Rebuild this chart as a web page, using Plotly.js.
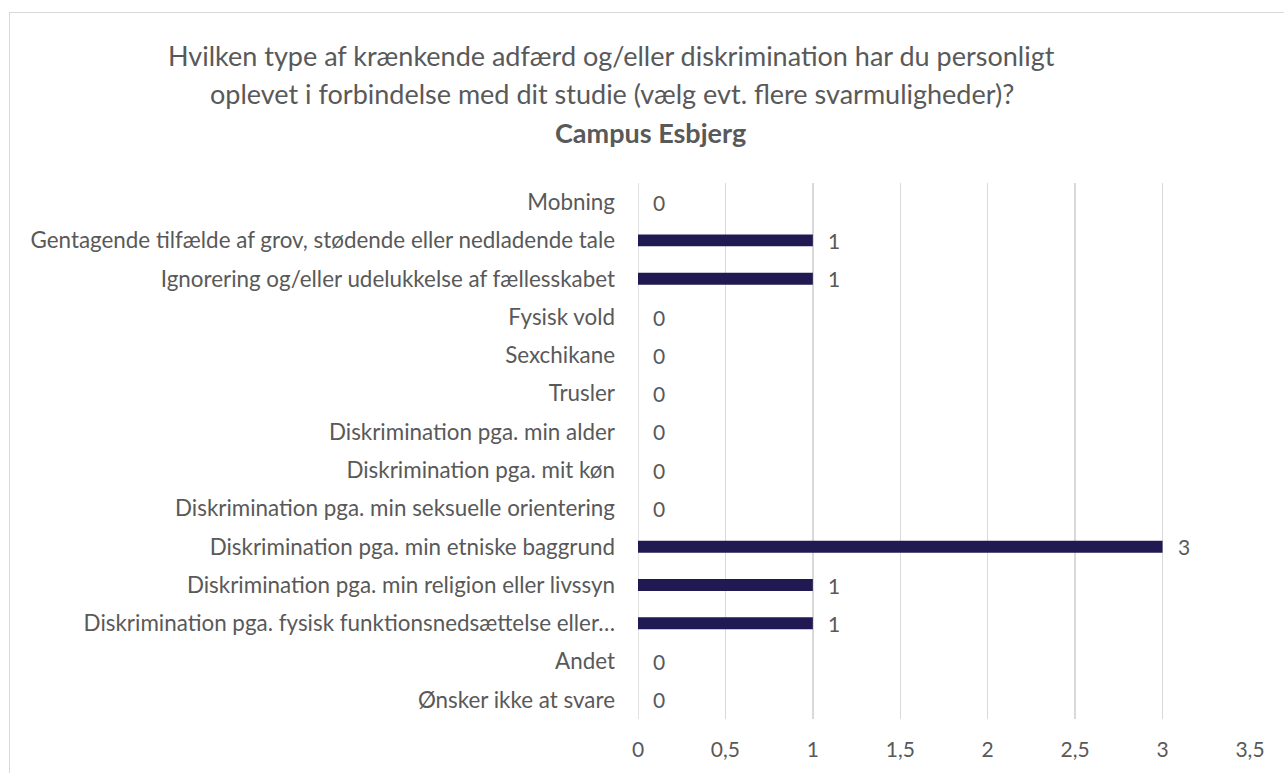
<!DOCTYPE html>
<html><head><meta charset="utf-8">
<script src="https://cdn.plot.ly/plotly-3.0.1.min.js"></script>
<style>html,body{margin:0;padding:0;background:#fff;overflow:hidden}
#frame{position:absolute;left:9px;top:12px;width:1400px;height:900px;border-left:1.5px solid #D9D9D9;border-top:1.5px solid #D9D9D9;pointer-events:none;z-index:5}
#chart{position:absolute;left:0;top:0;width:1284px;height:773px}</style>
</head><body>
<div id="chart"></div><div id="frame"></div>
<script>
const categories = [
  "Mobning",
  "Gentagende tilfælde af grov, stødende eller nedladende tale",
  "Ignorering og/eller udelukkelse af fællesskabet",
  "Fysisk vold",
  "Sexchikane",
  "Trusler",
  "Diskrimination pga. min alder",
  "Diskrimination pga. mit køn",
  "Diskrimination pga. min seksuelle orientering",
  "Diskrimination pga. min etniske baggrund",
  "Diskrimination pga. min religion eller livssyn",
  "Diskrimination pga. fysisk funktionsnedsættelse eller…",
  "Andet",
  "Ønsker ikke at svare"
];
const values = [0, 1, 1, 0, 0, 0, 0, 0, 0, 3, 1, 1, 0, 0];
const tickVals = [0, 0.5, 1, 1.5, 2, 2.5, 3, 3.5];
const tickText = ["0", "0,5", "1", "1,5", "2", "2,5", "3", "3,5"];
const titleLines = [
  "Hvilken type af krænkende adfærd og/eller diskrimination har du personligt",
  "oplevet i forbindelse med dit studie (vælg evt. flere svarmuligheder)?",
  "<b>Campus Esbjerg</b>"
];

const FONT = "Lato, 'Open Sans', sans-serif";
const GREY = "#595959";

const trace = {
  type: "bar", orientation: "h",
  x: values, y: categories,
  width: 0.31,
  marker: {color: "#211A52", line: {width: 0}},
  hoverinfo: "x+y"
};

const labelAnn = values.map((v, i) => ({
  x: v, y: categories[i], xref: "x", yref: "y",
  text: String(v), showarrow: false, xanchor: "left", yanchor: "middle",
  xshift: 13, font: {family: FONT, size: 21, color: GREY}
}));

const titleY = [1.2388, 1.1679, 1.0951];
const titleX = [-0.0425, -0.0425, 0.0212];
const titleAnn = titleLines.map((t, i) => ({
  x: titleX[i], y: titleY[i], xref: "paper", yref: "paper",
  text: t, showarrow: false, xanchor: "center", yanchor: "middle",
  font: {family: FONT, size: 27, color: GREY}
}));

const layout = {
  width: 1284, height: 773,
  margin: {l: 638, r: 34, t: 183, b: 54},
  paper_bgcolor: "rgba(0,0,0,0)", plot_bgcolor: "#fff",
  showlegend: false,
  font: {family: FONT, color: GREY},
  xaxis: {
    range: [0, 3.5], tickvals: tickVals, ticktext: tickText,
    showgrid: true, gridcolor: "#D9D9D9", gridwidth: 1.5,
    zeroline: false, showline: false, ticks: "",
    ticklabelstandoff: 16,
    tickfont: {family: FONT, size: 21, color: GREY}
  },
  yaxis: {
    autorange: "reversed", type: "category",
    showgrid: false, zeroline: false, showline: false, ticks: "",
    ticklabelstandoff: 22,
    tickfont: {family: FONT, size: 22.4, color: GREY}
  },
  shapes: [{type: "line", xref: "x", yref: "paper", x0: 0, x1: 0, y0: 0, y1: 1,
            line: {color: "#D9D9D9", width: 1.5}, layer: "below"}],
  annotations: titleAnn.concat(labelAnn)
};

Plotly.newPlot("chart", [trace], layout, {displayModeBar: false, staticPlot: true});
</script>
</body></html>
